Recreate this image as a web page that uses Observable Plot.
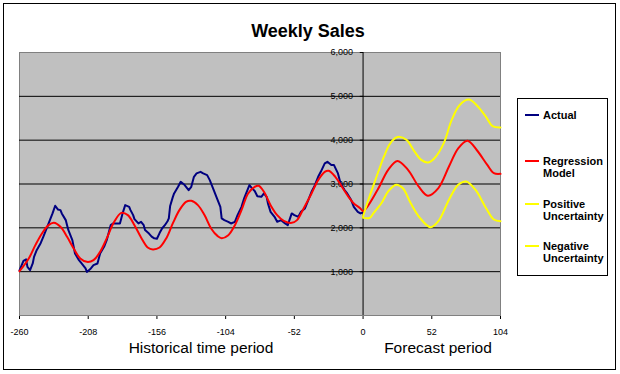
<!DOCTYPE html>
<html><head><meta charset="utf-8">
<script src="https://cdn.jsdelivr.net/npm/d3@7"></script>
<script src="https://cdn.jsdelivr.net/npm/@observablehq/plot@0.6"></script>
<style>
body{margin:0;background:#fff;font-family:"Liberation Sans",Arial,sans-serif;}
#wrap{position:relative;width:620px;height:374px;overflow:hidden;background:#fff;}
#wrap svg{position:absolute;left:0;top:0;}
#border{position:absolute;left:3px;top:3px;width:611px;height:365px;border:1px solid #000;pointer-events:none;}
#title{position:absolute;left:0;width:616px;top:22px;line-height:18px;text-align:center;font-weight:bold;font-size:18px;color:#000;}
.xl{position:absolute;top:340px;width:200px;line-height:16px;font-size:15.5px;text-align:center;color:#000;}
#legend{position:absolute;left:517px;top:98px;width:89px;height:176px;border:1px solid #000;background:#fff;}
.item{position:absolute;left:0;width:89px;}
.sw{position:absolute;left:7px;width:14px;height:2px;}
.lt{position:absolute;left:25px;font-weight:bold;font-size:11px;line-height:12px;color:#000;white-space:nowrap;}
</style></head>
<body>
<div id="wrap">
  <div id="plot"></div>
  <div id="title">Weekly Sales</div>
  <div class="xl" style="left:101px">Historical time period</div>
  <div class="xl" style="left:338px">Forecast period</div>
  <div id="legend"></div>
  <div id="border"></div>
</div>
<script>
// ---- data ----
const weeksActual = [-260,-257,-255,-254,-252,-250,-249,-247,-244,-242,-239,-235,-233,-231,-229,-228,-225,-224,-223,-220,-218,-215,-213,-210,-209,-206,-204,-201,-199,-196,-194,-191,-189,-184,-182,-180,-177,-176,-174,-173,-170,-168,-166,-165,-162,-160,-158,-156,-154,-152,-150,-148,-147,-146,-144,-143,-140,-138,-135,-132,-130,-128,-126,-123,-121,-118,-116,-113,-111,-108,-107,-105,-102,-100,-97,-95,-92,-90,-86,-84,-82,-80,-77,-75,-73,-72,-70,-67,-65,-62,-59,-57,-54,-52,-49,-47,-44,-42,-39,-37,-34,-32,-29,-27,-24,-22,-19,-17,-14,-12,-9,-7,-4,-2,0];
const salesActual = [1030,1247,1280,1110,1034,1187,1338,1490,1650,1795,2023,2329,2503,2420,2404,2329,2176,2061,1947,1719,1415,1262,1187,1073,995,1073,1148,1187,1415,1566,1719,2061,2100,2100,2329,2518,2479,2404,2290,2200,2100,2137,2061,1950,1870,1800,1760,1750,1880,1990,2060,2150,2215,2500,2700,2785,2936,3050,2975,2861,2936,3164,3242,3278,3242,3203,3089,2861,2708,2479,2215,2176,2137,2100,2137,2290,2479,2671,2975,2900,2840,2720,2708,2785,2708,2557,2365,2251,2137,2176,2100,2061,2329,2290,2251,2365,2443,2594,2822,2936,3164,3278,3470,3507,3431,3431,3242,3014,2861,2785,2632,2479,2365,2329,2350];

const weeksModel = [-260,-253,-248,-243,-238,-234,-229,-224,-219,-214,-209,-204,-199,-194,-189,-183,-178,-173,-168,-163,-159,-154,-149,-144,-139,-134,-130,-125,-120,-115,-110,-107,-102,-97,-92,-87,-82,-79,-75,-70,-65,-60,-54,-50,-45,-39,-34,-29,-26,-21,-16,-11,-7,-2,0,11,19,26,34,42,49,57,65,72,79,86,94,99,104];
const salesModel = [1010,1300,1605,1872,2061,2114,2023,1795,1530,1300,1224,1262,1452,1758,2100,2342,2290,2060,1780,1552,1507,1552,1758,2100,2404,2594,2617,2518,2290,1986,1810,1765,1833,2061,2404,2785,2936,2960,2822,2518,2290,2160,2114,2176,2443,2785,3089,3278,3301,3164,2936,2708,2557,2443,2380,2869,3323,3527,3323,2945,2733,2907,3398,3814,3988,3776,3436,3247,3232];

const weeksUpper = [0,4,8,12,16,20,24,27,33,39,44,49,54,61,67,73,80,86,93,98,104];
const salesUpper = [2260,2640,2980,3320,3640,3900,4040,4079,4003,3738,3550,3489,3587,3927,4456,4797,4925,4797,4532,4320,4290];

const weeksLower = [0,5,8,14,19,25,30,36,43,51,57,65,72,78,85,93,99,104];
const salesLower = [2227,2227,2340,2567,2831,2983,2907,2567,2227,2015,2151,2642,2983,3058,2869,2454,2189,2151];

const xTicks = [-260,-208,-156,-104,-52,0,52,104];
const yTicks = [1000,2000,3000,4000,5000,6000];
const gridLines = [1000,2000,3000,4000,5000];

const seriesNames = ["Actual","Regression\nModel","Positive\nUncertainty","Negative\nUncertainty"];
const seriesColors = ["#000080","#ff0000","#ffff00","#ffff00"];

const toRows = (w, s) => w.map((x, i) => ({week: x, sales: s[i]}));
const actual = toRows(weeksActual, salesActual);
const model = toRows(weeksModel, salesModel);
const upper = toRows(weeksUpper, salesUpper);
const lower = toRows(weeksLower, salesLower);

const chart = Plot.plot({
  width: 620,
  height: 374,
  marginLeft: 19,
  marginRight: 120,
  marginTop: 52,
  marginBottom: 59,
  style: {background: "transparent", fontFamily: "'Liberation Sans', Arial, sans-serif", fontSize: "9px", color: "#000"},
  x: {domain: [-260, 104], ticks: xTicks, tickFormat: d => String(d), tickSize: 4, tickPadding: 9, label: null},
  y: {domain: [0, 6000], axis: null},
  marks: [
    Plot.frame({fill: "#c0c0c0", stroke: "#808080"}),
    Plot.ruleY(gridLines, {stroke: "#000", strokeWidth: 1}),
    Plot.ruleX([0], {stroke: "#000", strokeWidth: 1}),
    Plot.link(yTicks, {x1: -2.5, x2: 0, y1: d => d, y2: d => d, stroke: "#000"}),
    Plot.text(yTicks, {x: 0, y: d => d, text: d => d3.format(",")(d), dx: -10, textAnchor: "end", fontSize: 9, fill: "#000"}),
    Plot.line(actual, {x: "week", y: "sales", stroke: seriesColors[0], strokeWidth: 2}),
    Plot.line(model, {x: "week", y: "sales", stroke: seriesColors[1], strokeWidth: 2, curve: "catmull-rom"}),
    Plot.line(upper, {x: "week", y: "sales", stroke: seriesColors[2], strokeWidth: 2, curve: "catmull-rom"}),
    Plot.line(lower, {x: "week", y: "sales", stroke: seriesColors[3], strokeWidth: 2, curve: "catmull-rom"})
  ]
});
document.getElementById("plot").appendChild(chart);

// legend
const legendTops = [10, 56, 99, 141];
const legend = document.getElementById("legend");
seriesNames.forEach((name, i) => {
  const item = document.createElement("div");
  item.className = "item";
  item.style.top = legendTops[i] + "px";
  const sw = document.createElement("div");
  sw.className = "sw";
  sw.style.top = "5px";
  sw.style.background = seriesColors[i];
  const lt = document.createElement("div");
  lt.className = "lt";
  lt.innerHTML = name.replace("\n", "<br>");
  item.appendChild(sw);
  item.appendChild(lt);
  legend.appendChild(item);
});
</script>
</body></html>
